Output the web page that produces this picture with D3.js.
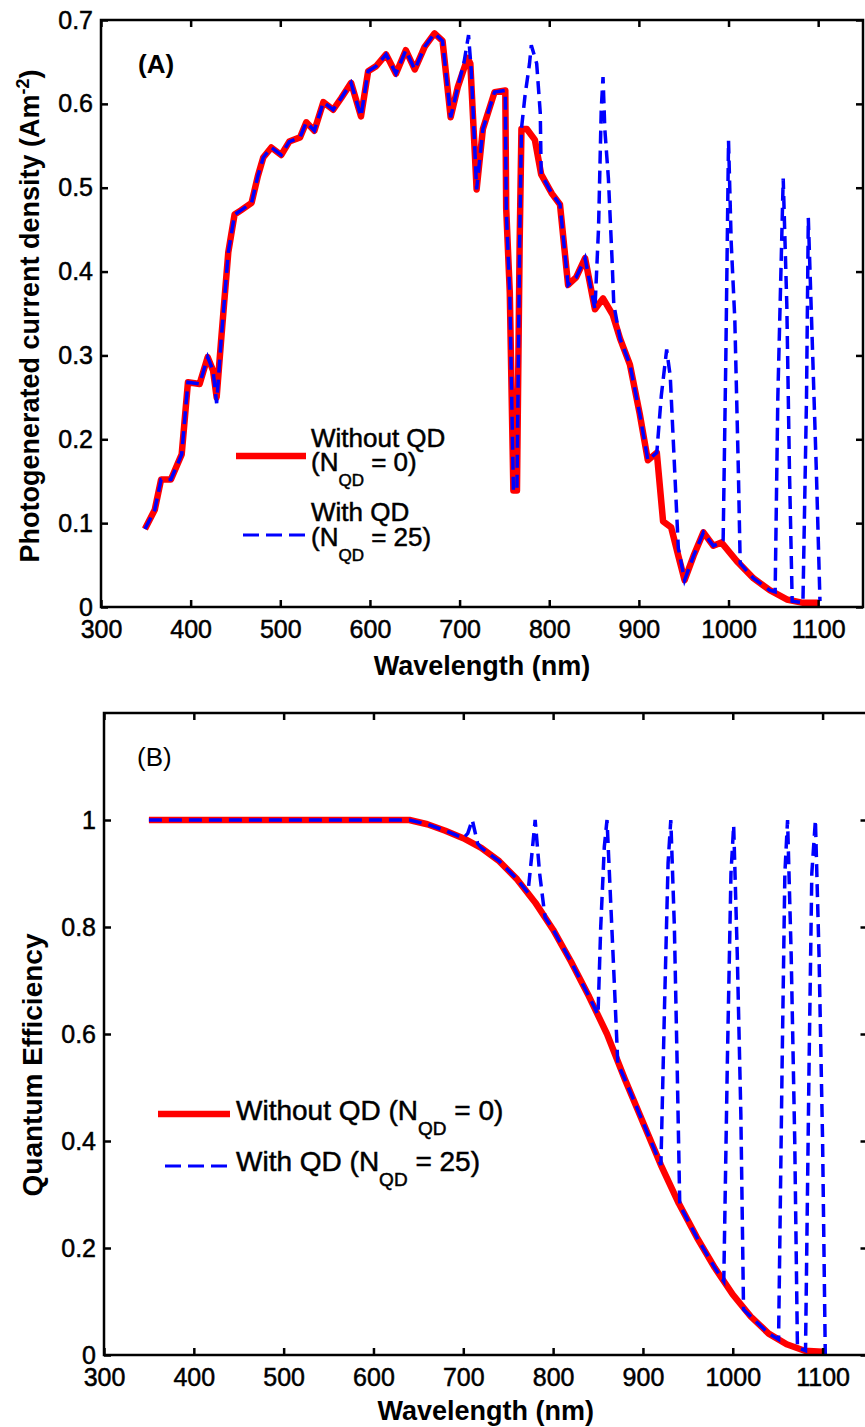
<!DOCTYPE html>
<html>
<head>
<meta charset="utf-8">
<script src="https://cdn.jsdelivr.net/npm/d3@7"></script>
<style>
  html, body { margin: 0; padding: 0; background: #fff; }
  svg { display: block; }
  text { font-family: "Liberation Sans", Arial, Helvetica, sans-serif; fill: #000; }
  .heavy { stroke: #000; stroke-width: 0.5px; }
</style>
</head>
<body>
<div id="chart"></div>
<script>
// ---- data ----
const xTicks = [300, 400, 500, 600, 700, 800, 900, 1000, 1100];
const yTicksA = [0, 0.1, 0.2, 0.3, 0.4, 0.5, 0.6, 0.7];
const yTicksB = [0, 0.2, 0.4, 0.6, 0.8, 1];

// (A) photogenerated current density, [wavelength nm, A m^-2]
const jNoQD = [
  [349,0.093],[360,0.116],[367,0.152],[378,0.152],[390,0.182],[397,0.268],[410,0.266],[419,0.298],
  [425,0.282],[429,0.250],[434,0.318],[442,0.423],[449,0.468],[456,0.473],[468,0.482],[475,0.514],
  [481,0.536],[490,0.548],[501,0.539],[510,0.555],[522,0.560],[529,0.578],[538,0.568],[548,0.602],
  [559,0.593],[568,0.607],[579,0.625],[590,0.585],[598,0.639],[607,0.645],[618,0.659],[629,0.636],
  [640,0.664],[650,0.641],[661,0.668],[672,0.684],[681,0.675],[690,0.584],[698,0.620],[709,0.655],
  [712,0.648],[719,0.498],[726,0.570],[739,0.614],[751,0.616],[752,0.475],[756,0.375],[760,0.139],
  [764,0.139],[767,0.434],[769,0.570],[775,0.570],[784,0.557],[791,0.516],[803,0.493],[812,0.480],
  [821,0.384],[830,0.393],[840,0.416],[851,0.355],[860,0.368],[871,0.348],[879,0.320],[890,0.289],
  [901,0.230],[910,0.175],[920,0.184],[927,0.102],[936,0.095],[944,0.061],[951,0.032],[961,0.061],
  [972,0.089],[983,0.073],[992,0.077],[1009,0.055],[1028,0.034],[1046,0.020],[1065,0.009],[1083,0.005],
  [1100,0.005]
];
const jWithQD = [
  [349,0.093],[360,0.116],[367,0.152],[378,0.152],[390,0.182],[397,0.268],[410,0.266],[419,0.298],
  [425,0.282],[429,0.243],[434,0.318],[442,0.423],[449,0.468],[456,0.473],[468,0.482],[475,0.514],
  [481,0.536],[490,0.548],[501,0.539],[510,0.555],[522,0.560],[529,0.578],[538,0.568],[548,0.602],
  [559,0.593],[568,0.607],[579,0.625],[590,0.585],[598,0.639],[607,0.645],[618,0.659],[629,0.636],
  [640,0.664],[650,0.641],[661,0.668],[672,0.684],[681,0.675],[690,0.584],[698,0.620],[705,0.650],
  [710,0.682],[713,0.640],[719,0.498],[726,0.570],[739,0.614],[751,0.616],[752,0.475],[756,0.375],
  [760,0.139],[764,0.139],[767,0.434],[769,0.570],[773,0.610],[778,0.648],[780,0.670],[786,0.648],
  [790,0.589],[791,0.516],[803,0.493],[812,0.480],[821,0.384],[830,0.393],[840,0.416],[851,0.355],
  [855,0.452],[858,0.593],[860,0.632],[862,0.570],[866,0.511],[870,0.416],[872,0.361],[879,0.320],
  [890,0.289],[901,0.230],[910,0.175],[920,0.184],[925,0.252],[931,0.307],[935,0.275],[939,0.184],
  [944,0.070],[951,0.032],[961,0.061],[972,0.089],[983,0.073],[992,0.077],[994,0.080],[997,0.298],
  [1000,0.556],[1003,0.434],[1007,0.343],[1011,0.161],[1013,0.052],[1028,0.034],[1046,0.020],[1052,0.018],
  [1055,0.250],[1061,0.511],[1065,0.361],[1068,0.161],[1071,0.007],[1083,0.005],[1087,0.250],[1089,0.464],
  [1093,0.330],[1098,0.161],[1102,0.007]
];

// (B) quantum efficiency, [wavelength nm, QE]
const qeNoQD = [
  [350,1],[400,1],[450,1],[500,1],[550,1],[600,1],[640,1],[660,0.992],[680,0.980],[700,0.966],
  [720,0.948],[740,0.923],[760,0.889],[780,0.846],[800,0.795],[820,0.735],[840,0.670],[860,0.600],
  [880,0.515],[900,0.435],[920,0.355],[940,0.283],[960,0.220],[980,0.163],[1000,0.113],[1020,0.072],
  [1040,0.040],[1060,0.020],[1080,0.008],[1100,0.006]
];
const qeWithQD = [
  [350,1],[400,1],[450,1],[500,1],[550,1],[600,1],[640,1],[660,0.992],[680,0.980],[700,0.966],
  [705,0.975],[710,1],[716,0.956],[720,0.948],[740,0.923],[760,0.889],[772,0.864],[776,0.93],
  [780,1],[785,0.90],[791,0.818],[800,0.795],[820,0.735],[840,0.670],[850,0.636],[853,0.80],
  [857,0.95],[860,1],[864,0.85],[868,0.70],[872,0.545],[880,0.515],[900,0.435],[920,0.355],
  [924,0.65],[928,0.92],[931,1],[935,0.80],[938,0.55],[941,0.280],[960,0.220],[980,0.163],
  [990,0.138],[994,0.55],[998,0.90],[1001,0.99],[1005,0.75],[1009,0.45],[1012,0.085],[1020,0.072],
  [1040,0.040],[1051,0.029],[1055,0.55],[1058,0.90],[1061,1],[1065,0.75],[1069,0.40],[1072,0.014],
  [1081,0.008],[1085,0.55],[1088,0.90],[1092,1],[1096,0.75],[1100,0.40],[1103,0.0]
];

(function(){
  const W = 865, H = 1427;
  const RED = '#ff0000', BLUE = '#0000ff';
  const svg = d3.select('#chart').append('svg')
    .attr('width', W).attr('height', H).attr('viewBox', `0 0 ${W} ${H}`);
  svg.append('rect').attr('width', W).attr('height', H).attr('fill', '#fff');

  function drawPanel(p){
    const x = d3.scaleLinear().domain([300, 1150]).range([p.left, p.right]);
    const y = d3.scaleLinear().domain(p.yDomain).range([p.bottom, p.top]);
    const g = svg.append('g');

    const line = d3.line().x(d=>x(d[0])).y(d=>y(d[1]));
    g.append('path').datum(p.noQD).attr('d', line)
      .attr('fill','none').attr('stroke', RED).attr('stroke-width', 6.5)
      .attr('stroke-linejoin','round');
    g.append('path').datum(p.withQD).attr('d', line)
      .attr('fill','none').attr('stroke', BLUE).attr('stroke-width', 3.5)
      .attr('stroke-dasharray','13,7');

    // axes, MATLAB style: box with inward ticks on all four sides
    const fmt = v => String(v);
    const bottomAx = g.append('g').attr('transform',`translate(0,${p.bottom})`)
      .call(d3.axisBottom(x).tickValues(xTicks).tickSize(-7).tickPadding(13).tickFormat(fmt));
    const topAx = g.append('g').attr('transform',`translate(0,${p.top})`)
      .call(d3.axisTop(x).tickValues(xTicks).tickSize(-7).tickFormat(''));
    const leftAx = g.append('g').attr('transform',`translate(${p.left},0)`)
      .call(d3.axisLeft(y).tickValues(p.yTicks).tickSize(-7).tickPadding(8).tickFormat(fmt));
    const rightAx = g.append('g').attr('transform',`translate(${p.right},0)`)
      .call(d3.axisRight(y).tickValues(p.yTicks).tickSize(-7).tickFormat(''));
    [bottomAx, topAx, leftAx, rightAx].forEach(a=>{
      a.select('.domain').remove();
      a.selectAll('.tick line').attr('stroke','#000').attr('stroke-width',2.5);
      a.selectAll('.tick text').attr('fill','#000').attr('class','heavy')
        .style('font-size','25px').style('font-family','"Liberation Sans", Arial, sans-serif');
    });
    g.append('rect')
      .attr('x', p.left).attr('y', p.top)
      .attr('width', p.right - p.left).attr('height', p.bottom - p.top)
      .attr('fill','none').attr('stroke','#000').attr('stroke-width',2.5);

    // axis titles
    g.append('text').attr('x', (p.left+p.right)/2).attr('y', p.xLabelY)
      .attr('text-anchor','middle').style('font-size','27px').style('font-weight','bold')
      .text('Wavelength (nm)');
    const yl = g.append('text')
      .attr('transform',`translate(${p.yLabelX},${p.yLabelCY}) rotate(-90)`)
      .attr('text-anchor','middle').style('font-size', p.yLabelSize+'px').style('font-weight','bold');
    p.yLabel(yl);

    g.append('text').attr('x', p.tagX).attr('y', p.tagY)
      .style('font-size', '26px').style('font-weight', p.tagBold ? 'bold' : 'normal')
      .text(p.tag);
    return {x, y, g};
  }

  // panel A
  const A = drawPanel({
    left: 101, right: 863, top: 20, bottom: 607, yDomain: [0, 0.7], yTicks: yTicksA,
    noQD: jNoQD, withQD: jWithQD, xLabelY: 675,
    yLabelX: 39, yLabelCY: 316, yLabelSize: 27,
    yLabel: t => {
      t.append('tspan').text('Photogenerated current density (Am');
      t.append('tspan').attr('dy', -10).style('font-size','18px').text('-2');
      t.append('tspan').attr('dy', 10).text(')');
    },
    tag: '(A)', tagX: 138, tagY: 73, tagBold: true
  });

  // panel B (right border falls just outside the picture, as in the original)
  const B = drawPanel({
    left: 104, right: 867.5, top: 713, bottom: 1355, yDomain: [0, 1.2], yTicks: yTicksB,
    noQD: qeNoQD, withQD: qeWithQD, xLabelY: 1420,
    yLabelX: 42, yLabelCY: 1065, yLabelSize: 28,
    yLabel: t => t.text('Quantum Efficiency'),
    tag: '(B)', tagX: 137, tagY: 766, tagBold: false
  });

  // legends
  function subLabel(g, x, y, pre, sub, post, size){
    const t = g.append('text').attr('x', x).attr('y', y).attr('class','heavy')
      .style('font-size', size+'px');
    t.append('tspan').text(pre);
    t.append('tspan').attr('dy', 15).style('font-size', Math.round(size*0.67)+'px').text(sub);
    t.append('tspan').attr('dy', -15).text(post);
  }
  const la = A.g.append('g');
  la.append('line').attr('x1',236).attr('x2',306).attr('y1',456).attr('y2',456)
    .attr('stroke',RED).attr('stroke-width',6.5);
  la.append('text').attr('x',311).attr('y',447).attr('class','heavy')
    .style('font-size','26px').text('Without QD');
  subLabel(la, 311, 471, '(N', 'QD', ' = 0)', 26);
  la.append('line').attr('x1',243).attr('x2',306).attr('y1',535).attr('y2',535)
    .attr('stroke',BLUE).attr('stroke-width',3).attr('stroke-dasharray','16,7');
  la.append('text').attr('x',311).attr('y',521).attr('class','heavy')
    .style('font-size','26px').text('With QD');
  subLabel(la, 311, 546, '(N', 'QD', ' = 25)', 26);

  const lb = B.g.append('g');
  lb.append('line').attr('x1',158).attr('x2',230).attr('y1',1114).attr('y2',1114)
    .attr('stroke',RED).attr('stroke-width',6.5);
  subLabel(lb, 236, 1120, 'Without QD (N', 'QD', ' = 0)', 28);
  lb.append('line').attr('x1',165).attr('x2',230).attr('y1',1166).attr('y2',1166)
    .attr('stroke',BLUE).attr('stroke-width',3).attr('stroke-dasharray','16,7');
  subLabel(lb, 236, 1171, 'With QD (N', 'QD', ' = 25)', 28);
})();
</script>
</body>
</html>
